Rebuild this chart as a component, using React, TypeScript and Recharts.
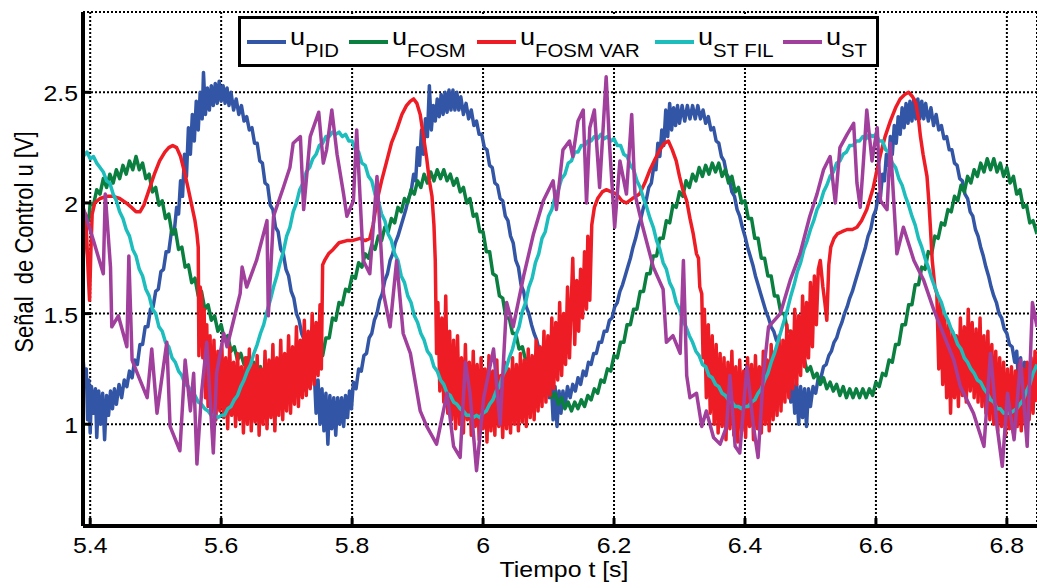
import React from 'react';
import { LineChart, Line, XAxis, YAxis, CartesianGrid } from 'recharts';

type P = [number, number];

const X_DOMAIN: [number, number] = [5.389, 6.846];
const Y_DOMAIN: [number, number] = [0.54, 2.863];
const X_TICKS = [5.4, 5.6, 5.8, 6, 6.2, 6.4, 6.6, 6.8];
const Y_TICKS = [1, 1.5, 2, 2.5];
const X_TITLE = 'Tiempo t [s]';
const Y_TITLE = 'Señal  de Control u [V]';

const SERIES_NAMES = ['PID', 'FOSM', 'FOSM VAR', 'ST FIL', 'ST'];
const SERIES_COLORS = ['#3355a5', '#0a7f3f', '#ee1d25', '#1dbdbd', '#a0409c'];

const U_PID: P[] = [
  [5.389,1.30],[5.392,1.18],[5.394,1.25],[5.396,1.02],[5.398,1.20],[5.400,0.96],[5.402,1.17],[5.405,1.05],[5.408,1.16],[5.410,0.94],
  [5.413,1.15],[5.416,1.00],[5.419,1.14],[5.422,0.93],[5.425,1.13],[5.428,1.04],[5.431,1.15],[5.434,1.07],[5.437,1.16],[5.440,1.09],
  [5.444,1.18],[5.448,1.12],[5.452,1.20],[5.456,1.17],[5.460,1.24],[5.464,1.21],[5.468,1.29],[5.472,1.27],[5.476,1.36],[5.480,1.36],
  [5.484,1.44],[5.488,1.44],[5.492,1.52],[5.496,1.53],[5.500,1.60],[5.504,1.61],[5.508,1.69],[5.512,1.70],[5.516,1.78],[5.520,1.78],
  [5.524,1.87],[5.528,1.86],[5.532,1.98],[5.535,1.95],[5.538,2.10],[5.541,2.03],[5.544,2.22],[5.547,2.12],[5.550,2.34],[5.553,2.22],
  [5.556,2.40],[5.559,2.28],[5.562,2.46],[5.565,2.33],[5.568,2.50],[5.571,2.38],[5.573,2.59],[5.576,2.40],[5.579,2.52],[5.582,2.42],
  [5.585,2.53],[5.588,2.44],[5.591,2.54],[5.594,2.45],[5.597,2.55],[5.600,2.46],[5.603,2.53],[5.606,2.45],[5.609,2.52],[5.612,2.44],
  [5.615,2.50],[5.619,2.42],[5.623,2.47],[5.627,2.40],[5.631,2.44],[5.635,2.37],[5.639,2.39],[5.643,2.33],[5.647,2.34],[5.651,2.27],
  [5.655,2.27],[5.659,2.19],[5.663,2.18],[5.667,2.09],[5.671,2.08],[5.675,1.99],[5.679,1.97],[5.683,1.89],[5.687,1.87],[5.691,1.79],
  [5.695,1.77],[5.699,1.70],[5.703,1.67],[5.707,1.60],[5.711,1.57],[5.715,1.50],[5.719,1.47],[5.723,1.41],[5.727,1.38],[5.731,1.32],
  [5.735,1.30],[5.739,1.21],[5.742,1.25],[5.745,1.05],[5.748,1.20],[5.751,1.00],[5.754,1.16],[5.757,0.97],[5.760,1.14],[5.763,0.91],
  [5.766,1.13],[5.769,0.98],[5.772,1.12],[5.775,0.95],[5.778,1.12],[5.781,1.00],[5.784,1.12],[5.787,0.99],[5.790,1.13],[5.793,1.03],
  [5.796,1.15],[5.799,1.07],[5.802,1.19],[5.806,1.16],[5.810,1.25],[5.814,1.24],[5.818,1.31],[5.822,1.32],[5.826,1.39],[5.830,1.41],
  [5.834,1.47],[5.838,1.50],[5.842,1.56],[5.846,1.59],[5.850,1.65],[5.854,1.68],[5.858,1.74],[5.862,1.77],[5.866,1.82],[5.870,1.85],
  [5.874,1.89],[5.878,1.93],[5.882,1.97],[5.886,2.02],[5.890,2.05],[5.894,2.13],[5.897,2.10],[5.900,2.25],[5.903,2.17],[5.906,2.33],
  [5.909,2.22],[5.912,2.38],[5.915,2.30],[5.918,2.53],[5.921,2.33],[5.924,2.44],[5.927,2.37],[5.930,2.47],[5.933,2.39],[5.936,2.49],
  [5.939,2.40],[5.942,2.50],[5.945,2.41],[5.948,2.51],[5.951,2.42],[5.954,2.51],[5.957,2.42],[5.960,2.50],[5.963,2.42],[5.966,2.48],
  [5.970,2.40],[5.974,2.45],[5.978,2.38],[5.982,2.42],[5.986,2.35],[5.990,2.37],[5.994,2.31],[5.998,2.31],[6.002,2.25],[6.006,2.24],
  [6.010,2.17],[6.014,2.16],[6.018,2.09],[6.022,2.08],[6.026,2.02],[6.030,2.01],[6.034,1.94],[6.038,1.92],[6.042,1.85],[6.046,1.82],
  [6.050,1.74],[6.054,1.71],[6.058,1.63],[6.062,1.60],[6.066,1.53],[6.070,1.50],[6.074,1.45],[6.078,1.41],[6.082,1.38],[6.086,1.33],
  [6.090,1.30],[6.094,1.25],[6.098,1.23],[6.101,1.12],[6.104,1.20],[6.107,1.02],[6.110,1.17],[6.113,0.99],[6.116,1.15],[6.119,1.05],
  [6.122,1.15],[6.125,1.08],[6.129,1.17],[6.133,1.12],[6.137,1.18],[6.141,1.15],[6.145,1.21],[6.149,1.18],[6.153,1.24],[6.157,1.22],
  [6.161,1.28],[6.165,1.27],[6.169,1.32],[6.173,1.32],[6.177,1.37],[6.181,1.37],[6.185,1.42],[6.189,1.42],[6.193,1.47],[6.197,1.48],
  [6.201,1.53],[6.205,1.55],[6.209,1.60],[6.213,1.63],[6.217,1.67],[6.221,1.71],[6.225,1.75],[6.229,1.80],[6.233,1.84],[6.237,1.89],
  [6.241,1.93],[6.245,1.98],[6.249,2.01],[6.253,2.07],[6.257,2.09],[6.261,2.17],[6.264,2.15],[6.267,2.27],[6.270,2.21],[6.273,2.33],
  [6.276,2.26],[6.279,2.42],[6.282,2.30],[6.285,2.45],[6.288,2.33],[6.291,2.43],[6.294,2.35],[6.297,2.44],[6.300,2.36],[6.304,2.44],
  [6.308,2.37],[6.312,2.44],[6.316,2.38],[6.320,2.44],[6.324,2.38],[6.328,2.44],[6.332,2.38],[6.336,2.42],[6.340,2.36],[6.344,2.39],
  [6.348,2.33],[6.352,2.34],[6.356,2.28],[6.360,2.27],[6.364,2.21],[6.368,2.19],[6.372,2.13],[6.376,2.11],[6.380,2.05],[6.384,2.03],
  [6.388,1.97],[6.392,1.94],[6.396,1.89],[6.400,1.85],[6.404,1.80],[6.408,1.76],[6.412,1.72],[6.416,1.67],[6.420,1.63],[6.424,1.59],
  [6.428,1.55],[6.432,1.51],[6.436,1.48],[6.440,1.44],[6.444,1.42],[6.448,1.38],[6.452,1.36],[6.456,1.32],[6.460,1.30],[6.464,1.25],
  [6.467,1.22],[6.470,1.10],[6.473,1.20],[6.476,1.05],[6.479,1.18],[6.482,1.00],[6.485,1.17],[6.488,1.03],[6.491,1.16],[6.494,0.99],
  [6.497,1.16],[6.500,1.08],[6.504,1.17],[6.508,1.14],[6.512,1.21],[6.516,1.21],[6.520,1.26],[6.524,1.27],[6.528,1.31],[6.532,1.33],
  [6.536,1.37],[6.540,1.39],[6.544,1.43],[6.548,1.46],[6.552,1.50],[6.556,1.53],[6.560,1.57],[6.564,1.60],[6.568,1.64],[6.572,1.68],
  [6.576,1.72],[6.580,1.76],[6.584,1.80],[6.588,1.85],[6.592,1.88],[6.596,1.94],[6.600,1.97],[6.604,2.04],[6.607,2.03],[6.610,2.13],
  [6.613,2.10],[6.616,2.22],[6.619,2.17],[6.622,2.30],[6.625,2.22],[6.628,2.35],[6.631,2.27],[6.634,2.39],[6.637,2.31],[6.640,2.43],
  [6.643,2.34],[6.646,2.45],[6.649,2.36],[6.652,2.46],[6.655,2.37],[6.658,2.47],[6.661,2.38],[6.664,2.47],[6.667,2.38],[6.670,2.46],
  [6.673,2.38],[6.676,2.45],[6.680,2.37],[6.684,2.43],[6.688,2.35],[6.692,2.40],[6.696,2.33],[6.700,2.35],[6.704,2.29],[6.708,2.30],
  [6.712,2.24],[6.716,2.24],[6.720,2.18],[6.724,2.17],[6.728,2.11],[6.732,2.10],[6.736,2.04],[6.740,2.02],[6.744,1.96],[6.748,1.94],
  [6.752,1.88],[6.756,1.85],[6.760,1.80],[6.764,1.76],[6.768,1.71],[6.772,1.67],[6.776,1.62],[6.780,1.58],[6.784,1.55],[6.788,1.50],
  [6.792,1.48],[6.796,1.43],[6.800,1.41],[6.804,1.36],[6.808,1.35],[6.812,1.28],[6.815,1.33],[6.818,1.18],[6.821,1.30],[6.824,1.12],
  [6.827,1.28],[6.830,1.15],[6.833,1.27],[6.836,1.10],[6.839,1.26],[6.842,1.16],[6.846,1.25],
];

const U_FOSM: P[] = [
  [5.389,1.75],[5.392,1.86],[5.395,1.94],[5.398,1.92],[5.400,2.00],[5.405,1.99],[5.410,2.06],[5.415,2.04],[5.420,2.11],[5.425,2.07],
  [5.430,2.13],[5.435,2.09],[5.440,2.15],[5.445,2.11],[5.450,2.17],[5.455,2.13],[5.460,2.19],[5.465,2.15],[5.470,2.21],[5.475,2.15],
  [5.480,2.18],[5.485,2.11],[5.490,2.13],[5.495,2.05],[5.500,2.07],[5.505,1.99],[5.510,2.01],[5.515,1.93],[5.520,1.95],[5.525,1.86],
  [5.530,1.88],[5.535,1.79],[5.540,1.80],[5.545,1.71],[5.550,1.72],[5.555,1.64],[5.560,1.66],[5.565,1.58],[5.570,1.60],[5.575,1.52],
  [5.580,1.54],[5.585,1.47],[5.590,1.49],[5.595,1.42],[5.600,1.45],[5.605,1.38],[5.610,1.40],[5.615,1.33],[5.620,1.35],[5.625,1.29],
  [5.630,1.32],[5.635,1.27],[5.640,1.30],[5.645,1.25],[5.650,1.28],[5.655,1.23],[5.660,1.26],[5.665,1.21],[5.670,1.24],[5.675,1.19],
  [5.680,1.23],[5.685,1.18],[5.690,1.22],[5.695,1.17],[5.700,1.21],[5.705,1.16],[5.710,1.20],[5.715,1.15],[5.720,1.19],[5.725,1.15],
  [5.730,1.19],[5.735,1.17],[5.740,1.24],[5.745,1.23],[5.750,1.31],[5.755,1.31],[5.760,1.39],[5.765,1.39],[5.770,1.48],[5.775,1.47],
  [5.780,1.55],[5.785,1.54],[5.790,1.61],[5.795,1.60],[5.800,1.67],[5.805,1.66],[5.810,1.73],[5.815,1.71],[5.820,1.77],[5.825,1.75],
  [5.830,1.81],[5.835,1.79],[5.840,1.85],[5.845,1.83],[5.850,1.89],[5.855,1.87],[5.860,1.93],[5.865,1.91],[5.870,1.98],[5.875,1.96],
  [5.880,2.02],[5.885,2.00],[5.890,2.06],[5.895,2.04],[5.900,2.10],[5.905,2.07],[5.910,2.13],[5.915,2.09],[5.920,2.14],[5.925,2.10],
  [5.930,2.15],[5.935,2.11],[5.940,2.15],[5.945,2.10],[5.950,2.13],[5.955,2.08],[5.960,2.11],[5.965,2.05],[5.970,2.07],[5.975,2.00],
  [5.980,2.02],[5.985,1.94],[5.990,1.95],[5.995,1.87],[6.000,1.87],[6.005,1.78],[6.010,1.78],[6.015,1.68],[6.020,1.67],[6.025,1.58],
  [6.030,1.57],[6.035,1.48],[6.040,1.48],[6.045,1.41],[6.050,1.41],[6.055,1.34],[6.060,1.35],[6.065,1.29],[6.070,1.30],[6.075,1.24],
  [6.080,1.25],[6.085,1.19],[6.090,1.21],[6.095,1.15],[6.100,1.17],[6.105,1.12],[6.110,1.14],[6.115,1.09],[6.120,1.12],[6.125,1.07],
  [6.130,1.10],[6.135,1.06],[6.140,1.10],[6.145,1.07],[6.150,1.11],[6.155,1.08],[6.160,1.13],[6.165,1.11],[6.170,1.16],[6.175,1.14],
  [6.180,1.20],[6.185,1.19],[6.190,1.25],[6.195,1.24],[6.200,1.31],[6.205,1.30],[6.210,1.37],[6.215,1.37],[6.220,1.45],[6.225,1.45],
  [6.230,1.52],[6.235,1.52],[6.240,1.60],[6.245,1.60],[6.250,1.68],[6.255,1.68],[6.260,1.76],[6.265,1.76],[6.270,1.84],[6.275,1.84],
  [6.280,1.92],[6.285,1.91],[6.290,1.99],[6.295,1.98],[6.300,2.05],[6.305,2.03],[6.310,2.10],[6.315,2.07],[6.320,2.13],[6.325,2.10],
  [6.330,2.16],[6.335,2.12],[6.340,2.17],[6.345,2.13],[6.350,2.18],[6.355,2.14],[6.360,2.18],[6.365,2.12],[6.370,2.15],[6.375,2.09],
  [6.380,2.12],[6.385,2.05],[6.390,2.07],[6.395,2.00],[6.400,2.01],[6.405,1.93],[6.410,1.93],[6.415,1.84],[6.420,1.84],[6.425,1.75],
  [6.430,1.75],[6.435,1.67],[6.440,1.67],[6.445,1.58],[6.450,1.58],[6.455,1.50],[6.460,1.50],[6.465,1.42],[6.470,1.42],[6.475,1.35],
  [6.480,1.35],[6.485,1.29],[6.490,1.30],[6.495,1.24],[6.500,1.26],[6.505,1.21],[6.510,1.23],[6.515,1.18],[6.520,1.21],[6.525,1.16],
  [6.530,1.19],[6.535,1.15],[6.540,1.18],[6.545,1.13],[6.550,1.17],[6.555,1.12],[6.560,1.16],[6.565,1.12],[6.570,1.16],[6.575,1.12],
  [6.580,1.16],[6.585,1.12],[6.590,1.16],[6.595,1.13],[6.600,1.19],[6.605,1.17],[6.610,1.23],[6.615,1.22],[6.620,1.29],[6.625,1.28],
  [6.630,1.36],[6.635,1.36],[6.640,1.45],[6.645,1.45],[6.650,1.54],[6.655,1.54],[6.660,1.63],[6.665,1.63],[6.670,1.71],[6.675,1.70],
  [6.680,1.78],[6.685,1.77],[6.690,1.85],[6.695,1.84],[6.700,1.91],[6.705,1.90],[6.710,1.97],[6.715,1.96],[6.720,2.03],[6.725,2.01],
  [6.730,2.08],[6.735,2.05],[6.740,2.12],[6.745,2.09],[6.750,2.15],[6.755,2.12],[6.760,2.18],[6.765,2.14],[6.770,2.20],[6.775,2.15],
  [6.780,2.20],[6.785,2.14],[6.790,2.18],[6.795,2.12],[6.800,2.16],[6.805,2.09],[6.810,2.12],[6.815,2.04],[6.820,2.06],[6.825,1.98],
  [6.830,1.99],[6.835,1.91],[6.840,1.92],[6.846,1.86],
];

const U_FOSM_VAR: P[] = [
  [5.389,1.71],[5.391,1.88],[5.393,1.95],[5.395,1.82],[5.397,1.68],[5.399,1.56],[5.401,1.78],[5.403,1.95],[5.407,2.00],[5.415,2.02],
  [5.425,2.03],[5.435,2.03],[5.445,2.02],[5.455,2.00],[5.463,1.98],[5.470,1.96],[5.476,1.96],[5.482,1.99],[5.490,2.06],[5.498,2.13],
  [5.506,2.19],[5.514,2.23],[5.520,2.25],[5.526,2.26],[5.532,2.25],[5.538,2.21],[5.544,2.14],[5.550,2.06],[5.555,1.99],[5.560,1.92],
  [5.563,1.86],[5.565,1.80],[5.566,1.31],[5.568,1.62],[5.570,1.58],[5.572,1.30],[5.574,1.52],[5.576,1.12],[5.578,1.45],[5.580,1.08],
  [5.583,1.40],[5.586,1.05],[5.589,1.38],[5.592,1.02],[5.595,1.33],[5.598,1.06],[5.601,1.36],[5.604,1.03],[5.607,1.30],[5.610,0.98],
  [5.613,1.35],[5.616,1.04],[5.619,1.28],[5.622,0.99],[5.625,1.32],[5.628,1.02],[5.631,1.26],[5.634,0.96],[5.637,1.30],[5.640,1.00],
  [5.643,1.34],[5.646,0.97],[5.649,1.27],[5.652,1.01],[5.655,1.31],[5.658,0.95],[5.661,1.25],[5.664,1.00],[5.667,1.33],[5.670,0.98],
  [5.673,1.29],[5.676,1.03],[5.679,1.36],[5.682,0.97],[5.685,1.30],[5.688,1.04],[5.691,1.38],[5.694,1.02],[5.697,1.32],[5.700,1.06],
  [5.703,1.40],[5.706,1.05],[5.709,1.35],[5.712,1.09],[5.715,1.44],[5.718,1.08],[5.721,1.38],[5.724,1.12],[5.727,1.47],[5.730,1.13],
  [5.733,1.42],[5.736,1.16],[5.739,1.50],[5.742,1.18],[5.745,1.46],[5.748,1.22],[5.751,1.54],[5.753,1.25],[5.755,1.72],[5.758,1.74],
  [5.764,1.77],[5.771,1.79],[5.780,1.82],[5.792,1.83],[5.800,1.83],[5.812,1.84],[5.820,1.83],[5.827,1.84],[5.832,1.90],[5.838,2.01],
  [5.845,2.10],[5.853,2.19],[5.860,2.27],[5.868,2.33],[5.876,2.40],[5.883,2.44],[5.889,2.46],[5.894,2.47],[5.899,2.45],[5.904,2.40],
  [5.909,2.30],[5.914,2.20],[5.918,2.10],[5.922,2.03],[5.925,1.90],[5.927,1.74],[5.929,1.32],[5.931,1.55],[5.934,1.15],[5.937,1.48],
  [5.940,1.10],[5.943,1.58],[5.946,1.05],[5.949,1.42],[5.952,1.02],[5.955,1.38],[5.958,0.98],[5.961,1.40],[5.964,1.00],[5.967,1.30],
  [5.970,0.96],[5.973,1.36],[5.976,1.02],[5.979,1.28],[5.982,0.95],[5.985,1.33],[5.988,0.99],[5.991,1.27],[5.994,0.93],[5.997,1.30],
  [6.000,0.98],[6.003,1.25],[6.006,0.92],[6.009,1.31],[6.012,0.97],[6.015,1.24],[6.018,0.95],[6.021,1.29],[6.024,0.99],[6.027,1.22],
  [6.030,0.94],[6.033,1.28],[6.036,0.98],[6.039,1.25],[6.042,0.96],[6.045,1.30],[6.048,1.00],[6.051,1.27],[6.054,0.97],[6.057,1.32],
  [6.060,1.01],[6.063,1.29],[6.066,0.99],[6.069,1.34],[6.072,1.03],[6.075,1.31],[6.078,1.02],[6.081,1.38],[6.084,1.06],[6.087,1.35],
  [6.090,1.08],[6.093,1.42],[6.096,1.10],[6.099,1.40],[6.102,1.13],[6.105,1.48],[6.108,1.16],[6.111,1.46],[6.114,1.20],[6.117,1.55],
  [6.120,1.22],[6.123,1.50],[6.126,1.27],[6.129,1.62],[6.132,1.30],[6.135,1.58],[6.137,1.75],[6.140,1.36],[6.143,1.65],[6.146,1.42],
  [6.149,1.70],[6.152,1.48],[6.155,1.78],[6.158,1.52],[6.160,1.85],[6.163,1.56],[6.166,1.90],[6.170,1.98],[6.175,2.02],[6.182,2.05],
  [6.188,2.06],[6.196,2.05],[6.204,2.04],[6.212,2.01],[6.219,2.00],[6.228,2.02],[6.239,2.04],[6.247,2.09],[6.255,2.15],[6.263,2.20],
  [6.270,2.24],[6.277,2.27],[6.283,2.28],[6.289,2.24],[6.295,2.19],[6.300,2.12],[6.305,2.06],[6.311,2.01],[6.316,1.93],[6.321,1.86],
  [6.326,1.77],[6.329,1.75],[6.331,1.62],[6.334,1.59],[6.336,1.30],[6.338,1.52],[6.341,1.12],[6.344,1.45],[6.347,1.05],[6.350,1.40],
  [6.353,1.00],[6.356,1.36],[6.359,0.96],[6.362,1.32],[6.365,0.99],[6.368,1.30],[6.371,0.93],[6.374,1.28],[6.377,0.98],[6.380,1.33],
  [6.383,0.95],[6.386,1.26],[6.389,0.92],[6.392,1.29],[6.395,0.97],[6.398,1.24],[6.401,0.94],[6.404,1.30],[6.407,0.99],[6.410,1.27],
  [6.413,0.93],[6.416,1.31],[6.419,0.98],[6.422,1.26],[6.425,0.96],[6.428,1.33],[6.431,1.00],[6.434,1.29],[6.437,0.97],[6.440,1.36],
  [6.443,1.02],[6.446,1.33],[6.449,1.04],[6.452,1.40],[6.455,1.06],[6.458,1.38],[6.461,1.10],[6.464,1.45],[6.467,1.12],[6.470,1.42],
  [6.473,1.16],[6.476,1.52],[6.479,1.18],[6.482,1.49],[6.485,1.22],[6.488,1.58],[6.491,1.26],[6.494,1.55],[6.497,1.30],[6.500,1.64],
  [6.503,1.35],[6.506,1.67],[6.509,1.45],[6.512,1.70],[6.515,1.74],[6.519,1.62],[6.522,1.55],[6.525,1.47],[6.528,1.72],[6.531,1.80],
  [6.536,1.84],[6.541,1.86],[6.548,1.87],[6.556,1.88],[6.564,1.88],[6.571,1.89],[6.578,1.92],[6.586,1.97],[6.591,2.02],[6.596,2.07],
  [6.601,2.14],[6.607,2.22],[6.614,2.30],[6.622,2.37],[6.630,2.43],[6.637,2.47],[6.644,2.49],[6.650,2.50],[6.656,2.48],[6.661,2.45],
  [6.665,2.38],[6.668,2.30],[6.672,2.22],[6.678,2.12],[6.681,2.00],[6.683,1.90],[6.686,1.74],[6.690,1.62],[6.693,1.59],[6.696,1.25],
  [6.699,1.55],[6.702,1.18],[6.705,1.50],[6.708,1.12],[6.711,1.45],[6.714,1.05],[6.717,1.42],[6.720,1.12],[6.723,1.40],[6.726,1.08],
  [6.729,1.48],[6.732,1.13],[6.735,1.44],[6.738,1.10],[6.741,1.52],[6.744,1.15],[6.747,1.46],[6.750,1.12],[6.753,1.43],[6.756,1.10],
  [6.759,1.48],[6.762,1.08],[6.765,1.40],[6.768,1.05],[6.771,1.42],[6.774,1.02],[6.777,1.36],[6.780,1.00],[6.783,1.33],[6.786,0.97],
  [6.789,1.30],[6.792,0.99],[6.795,1.28],[6.798,0.95],[6.801,1.25],[6.804,0.98],[6.807,1.26],[6.810,0.96],[6.813,1.24],[6.816,0.99],
  [6.819,1.27],[6.822,0.97],[6.825,1.25],[6.828,1.00],[6.831,1.28],[6.834,1.02],[6.837,1.30],[6.840,1.05],[6.843,1.33],[6.846,1.10],
];

const U_ST_FIL: P[] = [
  [5.389,2.21],[5.395,2.23],[5.400,2.20],[5.405,2.21],[5.410,2.18],[5.415,2.16],[5.420,2.14],[5.425,2.10],[5.430,2.09],[5.435,2.04],
  [5.440,2.01],[5.445,1.96],[5.450,1.93],[5.455,1.88],[5.460,1.85],[5.465,1.79],[5.470,1.76],[5.475,1.70],[5.480,1.67],[5.485,1.61],
  [5.490,1.58],[5.495,1.52],[5.500,1.50],[5.505,1.44],[5.510,1.42],[5.515,1.37],[5.520,1.35],[5.525,1.30],[5.530,1.28],[5.535,1.24],
  [5.540,1.22],[5.545,1.18],[5.550,1.17],[5.555,1.14],[5.560,1.13],[5.565,1.10],[5.570,1.09],[5.575,1.07],[5.580,1.06],[5.585,1.04],
  [5.590,1.04],[5.595,1.03],[5.600,1.04],[5.605,1.04],[5.610,1.07],[5.615,1.08],[5.620,1.11],[5.625,1.13],[5.630,1.17],[5.635,1.20],
  [5.640,1.24],[5.645,1.27],[5.650,1.32],[5.655,1.36],[5.660,1.41],[5.665,1.45],[5.670,1.51],[5.675,1.56],[5.680,1.62],[5.685,1.67],
  [5.690,1.73],[5.695,1.78],[5.700,1.85],[5.705,1.89],[5.710,1.96],[5.715,2.00],[5.720,2.06],[5.725,2.09],[5.730,2.14],[5.735,2.16],
  [5.740,2.20],[5.745,2.22],[5.750,2.26],[5.755,2.27],[5.760,2.30],[5.765,2.30],[5.770,2.32],[5.775,2.31],[5.780,2.32],[5.785,2.30],
  [5.790,2.31],[5.795,2.28],[5.800,2.28],[5.805,2.24],[5.810,2.23],[5.815,2.18],[5.820,2.17],[5.825,2.12],[5.830,2.10],[5.835,2.04],
  [5.840,2.01],[5.845,1.95],[5.850,1.92],[5.855,1.86],[5.860,1.83],[5.865,1.77],[5.870,1.74],[5.875,1.67],[5.880,1.64],[5.885,1.58],
  [5.890,1.55],[5.895,1.49],[5.900,1.46],[5.905,1.41],[5.910,1.38],[5.915,1.33],[5.920,1.31],[5.925,1.26],[5.930,1.24],[5.935,1.20],
  [5.940,1.18],[5.945,1.14],[5.950,1.13],[5.955,1.10],[5.960,1.09],[5.965,1.07],[5.970,1.06],[5.975,1.04],[5.980,1.04],[5.985,1.03],
  [5.990,1.04],[5.995,1.03],[6.000,1.05],[6.005,1.06],[6.010,1.09],[6.015,1.11],[6.020,1.15],[6.025,1.17],[6.030,1.22],[6.035,1.25],
  [6.040,1.30],[6.045,1.34],[6.050,1.40],[6.055,1.44],[6.060,1.51],[6.065,1.55],[6.070,1.62],[6.075,1.66],[6.080,1.73],[6.085,1.77],
  [6.090,1.84],[6.095,1.87],[6.100,1.94],[6.105,1.97],[6.110,2.03],[6.115,2.06],[6.120,2.11],[6.125,2.13],[6.130,2.18],[6.135,2.19],
  [6.140,2.23],[6.145,2.23],[6.150,2.26],[6.155,2.26],[6.160,2.28],[6.165,2.28],[6.170,2.30],[6.175,2.29],[6.180,2.31],[6.185,2.29],
  [6.190,2.30],[6.195,2.28],[6.200,2.29],[6.205,2.26],[6.210,2.26],[6.215,2.22],[6.220,2.21],[6.225,2.17],[6.230,2.15],[6.235,2.10],
  [6.240,2.07],[6.245,2.02],[6.250,1.98],[6.255,1.93],[6.260,1.89],[6.265,1.83],[6.270,1.79],[6.275,1.73],[6.280,1.70],[6.285,1.64],
  [6.290,1.61],[6.295,1.55],[6.300,1.52],[6.305,1.47],[6.310,1.44],[6.315,1.40],[6.320,1.37],[6.325,1.33],[6.330,1.31],[6.335,1.27],
  [6.340,1.26],[6.345,1.22],[6.350,1.21],[6.355,1.18],[6.360,1.17],[6.365,1.14],[6.370,1.13],[6.375,1.11],[6.380,1.10],[6.385,1.08],
  [6.390,1.08],[6.395,1.07],[6.400,1.08],[6.405,1.08],[6.410,1.10],[6.415,1.11],[6.420,1.14],[6.425,1.16],[6.430,1.20],[6.435,1.23],
  [6.440,1.28],[6.445,1.32],[6.450,1.37],[6.455,1.42],[6.460,1.47],[6.465,1.52],[6.470,1.58],[6.475,1.63],[6.480,1.69],[6.485,1.73],
  [6.490,1.79],[6.495,1.83],[6.500,1.88],[6.505,1.92],[6.510,1.97],[6.515,2.00],[6.520,2.05],[6.525,2.08],[6.530,2.12],[6.535,2.14],
  [6.540,2.18],[6.545,2.19],[6.550,2.22],[6.555,2.23],[6.560,2.26],[6.565,2.26],[6.570,2.28],[6.575,2.28],[6.580,2.30],[6.585,2.29],
  [6.590,2.31],[6.595,2.30],[6.600,2.31],[6.605,2.28],[6.610,2.28],[6.615,2.24],[6.620,2.23],[6.625,2.18],[6.630,2.16],[6.635,2.11],
  [6.640,2.08],[6.645,2.03],[6.650,1.99],[6.655,1.94],[6.660,1.90],[6.665,1.84],[6.670,1.80],[6.675,1.75],[6.680,1.71],[6.685,1.66],
  [6.690,1.62],[6.695,1.58],[6.700,1.55],[6.705,1.50],[6.710,1.47],[6.715,1.43],[6.720,1.40],[6.725,1.36],[6.730,1.34],[6.735,1.30],
  [6.740,1.28],[6.745,1.25],[6.750,1.23],[6.755,1.20],[6.760,1.19],[6.765,1.16],[6.770,1.14],[6.775,1.11],[6.780,1.10],[6.785,1.07],
  [6.790,1.07],[6.795,1.05],[6.800,1.05],[6.805,1.05],[6.810,1.06],[6.815,1.07],[6.820,1.09],[6.825,1.11],[6.830,1.15],[6.835,1.18],
  [6.840,1.23],[6.846,1.27],
];

const U_ST: P[] = [
  [5.389,1.98],[5.405,1.83],[5.420,1.68],[5.423,2.04],[5.431,1.71],[5.433,1.44],[5.443,1.49],[5.456,1.35],[5.459,1.76],[5.464,1.29],
  [5.476,1.20],[5.487,1.12],[5.494,1.34],[5.502,1.05],[5.517,1.37],[5.522,0.99],[5.537,0.88],[5.545,1.29],[5.553,1.06],[5.558,1.23],
  [5.563,0.82],[5.570,1.14],[5.578,1.37],[5.588,0.87],[5.593,1.23],[5.604,1.41],[5.609,1.35],[5.619,1.47],[5.629,1.59],[5.632,1.71],
  [5.639,1.62],[5.654,1.74],[5.670,1.92],[5.672,1.49],[5.680,1.94],[5.695,2.07],[5.705,2.16],[5.710,2.27],[5.721,2.30],[5.726,1.97],
  [5.736,2.30],[5.749,2.41],[5.756,2.18],[5.761,2.24],[5.769,2.42],[5.777,2.22],[5.787,2.04],[5.792,1.94],[5.802,2.01],[5.807,2.33],
  [5.817,1.74],[5.827,1.68],[5.838,2.12],[5.848,1.59],[5.858,1.44],[5.868,1.74],[5.878,1.41],[5.889,1.32],[5.904,1.06],[5.914,0.99],
  [5.929,0.91],[5.945,1.14],[5.955,0.90],[5.965,0.85],[5.973,1.28],[5.980,1.14],[5.990,0.79],[6.001,1.12],[6.016,1.34],[6.026,1.00],
  [6.036,1.55],[6.046,1.44],[6.062,1.67],[6.077,1.86],[6.092,2.01],[6.107,2.10],[6.112,1.97],[6.122,2.24],[6.132,2.28],[6.137,2.21],
  [6.145,2.37],[6.153,2.42],[6.158,2.00],[6.163,2.34],[6.170,2.42],[6.178,2.07],[6.188,2.57],[6.193,2.27],[6.201,1.89],[6.209,2.19],
  [6.219,2.04],[6.227,2.40],[6.232,2.04],[6.244,1.89],[6.260,1.71],[6.275,1.61],[6.280,1.37],[6.290,1.40],[6.301,1.32],[6.306,1.74],
  [6.311,1.22],[6.316,1.12],[6.326,1.14],[6.334,0.99],[6.341,1.06],[6.352,0.94],[6.362,0.91],[6.372,0.99],[6.377,1.22],[6.385,0.90],
  [6.392,0.87],[6.403,1.26],[6.413,0.99],[6.420,0.85],[6.428,1.22],[6.436,1.44],[6.454,1.50],[6.469,1.65],[6.484,1.77],[6.499,1.94],
  [6.510,2.04],[6.520,2.15],[6.530,2.21],[6.538,2.00],[6.545,2.25],[6.556,2.31],[6.566,2.36],[6.571,2.09],[6.576,1.98],[6.581,2.19],
  [6.586,2.42],[6.594,2.19],[6.602,2.34],[6.607,2.01],[6.617,1.97],[6.622,2.27],[6.632,1.77],[6.642,1.89],[6.658,1.74],[6.673,1.65],
  [6.688,1.52],[6.704,1.40],[6.719,1.29],[6.729,1.17],[6.749,1.05],[6.765,0.90],[6.775,1.32],[6.785,0.99],[6.793,0.81],[6.801,1.14],
  [6.811,0.93],[6.821,1.29],[6.831,0.90],[6.839,1.55],[6.846,1.44],
];

const SERIES: P[][] = [U_PID, U_FOSM, U_FOSM_VAR, U_ST_FIL, U_ST];

const FONT = '"Liberation Sans", Arial, Helvetica, sans-serif';
const STRETCH = 1.13;

const XTick = (props: any) => {
  const { x, y, payload } = props;
  return (
    <g>
      <line x1={x} x2={x} y1={y} y2={y - 8} stroke="#000" strokeWidth={3} />
      <text
        transform={`translate(${x} ${y + 27}) scale(${STRETCH} 1)`}
        textAnchor="middle"
        fontSize={22}
        fontFamily={FONT}
        fill="#000"
      >
        {String(payload.value)}
      </text>
    </g>
  );
};

const TopTick = (props: any) => {
  const { x, y } = props;
  return <line x1={x} x2={x} y1={y} y2={y + 8} stroke="#000" strokeWidth={3} />;
};

const YTick = (props: any) => {
  const { x, y, payload } = props;
  return (
    <g>
      <line x1={x} x2={x + 8} y1={y} y2={y} stroke="#000" strokeWidth={3} />
      <text
        transform={`translate(${x - 5} ${y + 9}) scale(${STRETCH} 1)`}
        textAnchor="end"
        fontSize={22}
        fontFamily={FONT}
        fill="#000"
      >
        {String(payload.value)}
      </text>
    </g>
  );
};

const LEGEND_X = [247, 349, 477, 655, 783];

const Overlay = () => (
  <svg
    width={1037}
    height={588}
    style={{ position: 'absolute', left: 0, top: 0, pointerEvents: 'none' }}
  >
    <rect x={239.5} y={17.5} width={638} height={48} fill="#fff" stroke="#000" strokeWidth={3} />
    {SERIES_NAMES.map((name, i) => {
      const x0 = LEGEND_X[i];
      return (
        <g key={name}>
          <line x1={x0} x2={x0 + 39} y1={42} y2={42} stroke={SERIES_COLORS[i]} strokeWidth={4} />
          <text transform={`translate(${x0 + 43} 45) scale(${STRETCH} 1)`} fontSize={24} fontFamily={FONT} fill="#000">u</text>
          <text transform={`translate(${x0 + 58} 57) scale(${STRETCH} 1)`} fontSize={18} fontFamily={FONT} fill="#000">{name}</text>
        </g>
      );
    })}
    <text
      transform={`translate(564 577) scale(${STRETCH} 1)`}
      textAnchor="middle"
      fontSize={22}
      fontFamily={FONT}
      fill="#000"
    >
      {X_TITLE}
    </text>
    <text
      transform={`translate(33 242) scale(${STRETCH} 1) rotate(-90)`}
      textAnchor="middle"
      fontSize={22}
      fontFamily={FONT}
      fill="#000"
      style={{ whiteSpace: 'pre' }}
    >
      {Y_TITLE}
    </text>
  </svg>
);

export default function App() {
  return (
    <div style={{ position: 'absolute', left: 0, top: 0, width: 1037, height: 588, background: '#fff', overflow: 'hidden' }}>
      <LineChart width={1037} height={588} margin={{ top: 12, right: 0, bottom: 0, left: 0 }}>
        <CartesianGrid stroke="#000" strokeWidth={2} strokeDasharray="2 2" />
        <XAxis
          dataKey="t"
          type="number"
          domain={X_DOMAIN}
          ticks={X_TICKS}
          allowDataOverflow
          height={62}
          axisLine={{ stroke: '#000', strokeWidth: 4 }}
          tickLine={false}
          tickSize={0}
          tickMargin={0}
          tick={<XTick />}
          interval={0}
        />
        <XAxis
          xAxisId="top"
          orientation="top"
          dataKey="t"
          type="number"
          domain={X_DOMAIN}
          ticks={X_TICKS}
          allowDataOverflow
          height={0}
          axisLine={{ stroke: '#000', strokeWidth: 4 }}
          tickLine={false}
          tickSize={0}
          tickMargin={0}
          tick={<TopTick />}
          interval={0}
        />
        <YAxis
          type="number"
          domain={Y_DOMAIN}
          ticks={Y_TICKS}
          allowDataOverflow
          width={83}
          axisLine={{ stroke: '#000', strokeWidth: 4 }}
          tickLine={false}
          tickSize={0}
          tickMargin={0}
          tick={<YTick />}
          interval={0}
        />
        {SERIES.map((pts, i) => (
          <Line
            key={SERIES_NAMES[i]}
            data={pts.map(([t, u]) => ({ t, u }))}
            dataKey="u"
            type="linear"
            stroke={SERIES_COLORS[i]}
            strokeWidth={3.5}
            strokeLinejoin="round"
            dot={false}
            activeDot={false}
            isAnimationActive={false}
          />
        ))}
      </LineChart>
      <Overlay />
    </div>
  );
}
